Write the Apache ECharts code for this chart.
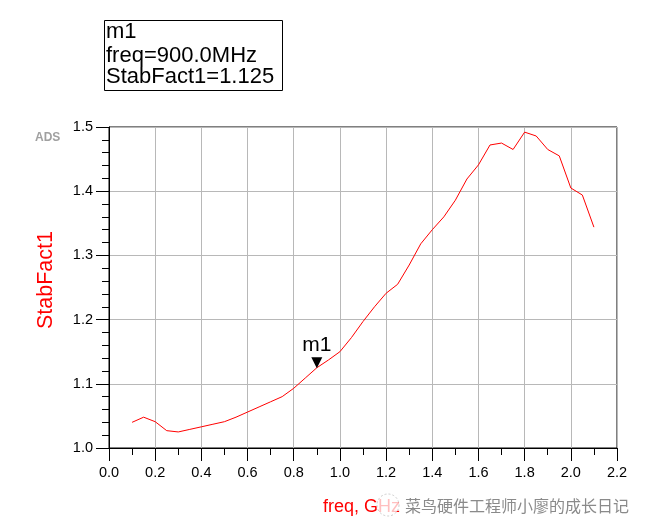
<!DOCTYPE html>
<html>
<head>
<meta charset="utf-8">
<script src="https://cdn.jsdelivr.net/npm/echarts@6/dist/echarts.min.js"></script>
<style>
html,body{margin:0;padding:0;background:#fff;}
#chart{width:651px;height:532px;}
</style>
</head>
<body>
<div id="chart"></div>
<script>
// Data
var freqGHz = [0.10,0.15,0.20,0.25,0.30,0.35,0.40,0.45,0.50,0.55,0.60,0.65,0.70,0.75,0.80,0.85,0.90,0.95,1.00,1.05,1.10,1.15,1.20,1.25,1.30,1.35,1.40,1.45,1.50,1.55,1.60,1.65,1.70,1.75,1.80,1.85,1.90,1.95,2.00,2.05,2.10];
var stabFact1 = [1.040,1.048,1.041,1.027,1.025,1.029,1.033,1.037,1.041,1.048,1.056,1.064,1.072,1.080,1.093,1.109,1.125,1.137,1.150,1.172,1.197,1.220,1.241,1.255,1.285,1.318,1.340,1.360,1.386,1.419,1.441,1.472,1.475,1.465,1.492,1.486,1.465,1.455,1.405,1.394,1.344];
var markerName = "m1";
var markerFreq = 0.90;
var markerValue = 1.125;
var markerLines = ["m1", "freq=900.0MHz", "StabFact1=1.125"];
var xTitle = "freq, GHz";
var yTitle = "StabFact1";
var watermark = "菜鸟硬件工程师小廖的成长日记";

var seriesData = freqGHz.map(function (f, i) { return [f, stabFact1[i]]; });

var chart = echarts.init(document.getElementById('chart'), null, {renderer: 'canvas'});
var fontA = 'Arial, "Liberation Sans", sans-serif';

var option = {
  backgroundColor: '#fff',
  animation: false,
  grid: {left: 109, right: 34, top: 127, bottom: 84, show: true, borderColor: '#000', borderWidth: 1, backgroundColor: 'transparent'},
  xAxis: {
    type: 'value', min: 0, max: 2.2, interval: 0.2,
    axisLine: {onZero: false, lineStyle: {color: '#000', width: 1}},
    axisTick: {show: true, inside: false, length: 13, lineStyle: {color: '#000'}},
    minorTick: {show: true, splitNumber: 2, length: 7, lineStyle: {color: '#000'}},
    splitLine: {show: true, lineStyle: {color: '#b8b8b8', width: 1}},
    axisLabel: {margin: 17, fontSize: 14.5, color: '#000', fontFamily: fontA, formatter: function (v) { return v.toFixed(1); }}
  },
  yAxis: {
    type: 'value', min: 1.0, max: 1.5, interval: 0.1,
    axisLine: {onZero: false, lineStyle: {color: '#000', width: 1}},
    axisTick: {show: true, inside: false, length: 13, lineStyle: {color: '#000'}},
    minorTick: {show: true, splitNumber: 5, length: 7, lineStyle: {color: '#000'}},
    splitLine: {show: true, lineStyle: {color: '#b8b8b8', width: 1}},
    axisLabel: {margin: 16, fontSize: 14.5, color: '#000', fontFamily: fontA, formatter: function (v) { return v.toFixed(1); }}
  },
  series: [{
    type: 'line',
    data: seriesData,
    showSymbol: false,
    symbol: 'none',
    lineStyle: {color: '#ff0000', width: 1},
    itemStyle: {color: '#ff0000'},
    markPoint: {
      symbol: 'triangle',
      symbolRotate: 180,
      symbolSize: [11, 11],
      symbolOffset: [0, -5],
      itemStyle: {color: '#000'},
      label: {show: true, position: 'top', distance: 2, formatter: markerName, color: '#000', fontSize: 21, fontFamily: fontA},
      data: [{coord: [markerFreq, markerValue]}]
    }
  }],
  graphic: [
    {type: 'rect', shape: {x: 104.5, y: 20.5, width: 178, height: 70}, style: {fill: '#fff', stroke: '#000', lineWidth: 1}},
    {type: 'text', x: 106, y: 32, style: {text: markerLines[0], font: '22px ' + fontA, fill: '#000', verticalAlign: 'middle'}},
    {type: 'text', x: 106, y: 55.5, style: {text: markerLines[1], font: '22px ' + fontA, fill: '#000', verticalAlign: 'middle'}},
    {type: 'text', x: 106, y: 77, style: {text: markerLines[2], font: '22px ' + fontA, fill: '#000', verticalAlign: 'middle'}},
    {type: 'text', x: 35, y: 138, style: {text: 'ADS', font: 'bold 12px ' + fontA, fill: '#a0a0a0', verticalAlign: 'middle'}},
    {type: 'text', x: 46, y: 280, rotation: Math.PI / 2, style: {text: yTitle, font: '21.5px ' + fontA, fill: '#ff0000', align: 'center', verticalAlign: 'middle'}},
    {type: 'text', x: 323, y: 507, style: {text: xTitle, font: '18px ' + fontA, fill: '#ff0000', verticalAlign: 'middle'}},
    {type: 'circle', shape: {cx: 388, cy: 505, r: 11}, style: {fill: 'rgba(255,255,255,0.75)', stroke: '#cccccc', lineWidth: 1, lineDash: [2, 2]}},
    {type: 'text', x: 405, y: 506, style: {text: watermark, font: '16px "Noto Sans CJK SC", sans-serif', fill: '#8a8a8a', stroke: '#fff', lineWidth: 2, verticalAlign: 'middle'}}
  ]
};
chart.setOption(option);
</script>
</body>
</html>
